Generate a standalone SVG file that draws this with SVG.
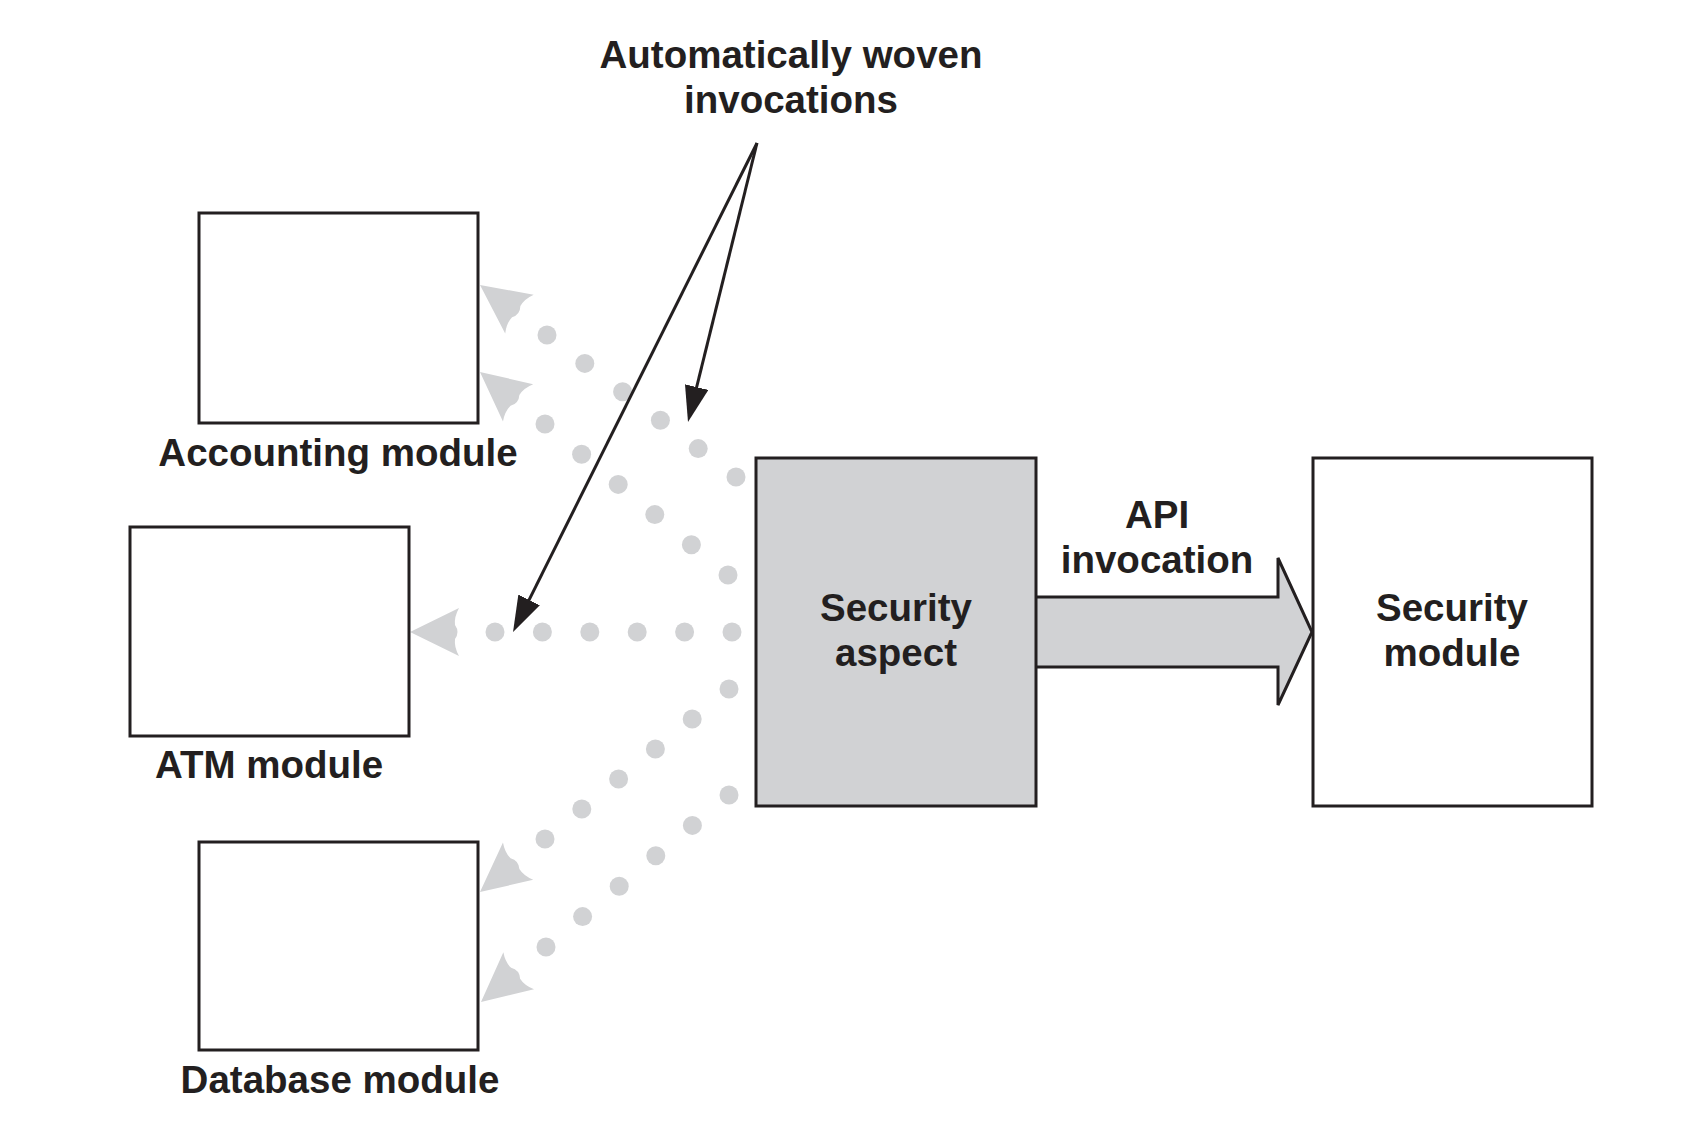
<svg xmlns="http://www.w3.org/2000/svg" width="1688" height="1130" viewBox="0 0 1688 1130">
<style>
.box{fill:#ffffff;stroke:#231f20;stroke-width:3}
.aspect{fill:#d1d2d4;stroke:#231f20;stroke-width:3}
.lbl{font-family:"Liberation Sans",Arial,sans-serif;font-weight:bold;font-size:38.5px;fill:#231f20;text-anchor:middle}
.dot{fill:#d1d2d4}
.ghead{fill:#d1d2d4}
.pointer{fill:none;stroke:#231f20;stroke-width:3}
.fat{fill:#d1d2d4;stroke:#231f20;stroke-width:3;stroke-linejoin:miter}
</style>
<defs>
<path id="grayhead" d="M0,0 L49,-24 Q44,-15 45,-7 Q50,0 45,7 Q44,15 49,24 Z"/>
<marker id="blackhead" markerUnits="userSpaceOnUse" markerWidth="36" markerHeight="24" viewBox="0 0 36 24" refX="26" refY="12" orient="auto">
<path d="M0,0 L36,12 L0,24 Z" fill="#231f20"/>
</marker>
</defs>
<rect width="1688" height="1130" fill="#ffffff"/>

<g id="connectors">
<g id="woven-accounting-1">
<circle class="dot" cx="547" cy="335" r="9.5"/><circle class="dot" cx="584.8" cy="363.4" r="9.5"/><circle class="dot" cx="622.6" cy="391.8" r="9.5"/><circle class="dot" cx="660.4" cy="420.2" r="9.5"/><circle class="dot" cx="698.2" cy="448.6" r="9.5"/><circle class="dot" cx="736" cy="477" r="9.5"/>
<use href="#grayhead" class="ghead" transform="translate(480,285) rotate(36.4)"/>
</g>
<g id="woven-accounting-2">
<circle class="dot" cx="545" cy="424" r="9.5"/><circle class="dot" cx="581.6" cy="454.2" r="9.5"/><circle class="dot" cx="618.2" cy="484.4" r="9.5"/><circle class="dot" cx="654.8" cy="514.6" r="9.5"/><circle class="dot" cx="691.4" cy="544.8" r="9.5"/><circle class="dot" cx="728" cy="575" r="9.5"/>
<use href="#grayhead" class="ghead" transform="translate(480,372) rotate(39)"/>
</g>
<g id="woven-atm">
<circle class="dot" cx="495" cy="632" r="9.5"/><circle class="dot" cx="542.4" cy="632" r="9.5"/><circle class="dot" cx="589.8" cy="632" r="9.5"/><circle class="dot" cx="637.2" cy="632" r="9.5"/><circle class="dot" cx="684.6" cy="632" r="9.5"/><circle class="dot" cx="732" cy="632" r="9.5"/>
<use href="#grayhead" class="ghead" transform="translate(410,632)"/>
</g>
<g id="woven-database-1">
<circle class="dot" cx="545" cy="839" r="9.5"/><circle class="dot" cx="581.8" cy="809" r="9.5"/><circle class="dot" cx="618.6" cy="779" r="9.5"/><circle class="dot" cx="655.4" cy="749" r="9.5"/><circle class="dot" cx="692.2" cy="719" r="9.5"/><circle class="dot" cx="729" cy="689" r="9.5"/>
<use href="#grayhead" class="ghead" transform="translate(480,892) rotate(-39)"/>
</g>
<g id="woven-database-2">
<circle class="dot" cx="546" cy="947" r="9.5"/><circle class="dot" cx="582.6" cy="916.6" r="9.5"/><circle class="dot" cx="619.2" cy="886.2" r="9.5"/><circle class="dot" cx="655.8" cy="855.8" r="9.5"/><circle class="dot" cx="692.4" cy="825.4" r="9.5"/><circle class="dot" cx="729" cy="795" r="9.5"/>
<use href="#grayhead" class="ghead" transform="translate(481,1002) rotate(-39.7)"/>
</g>
<path id="pointer-atm" class="pointer" d="M757,143 L517.5,623.1" marker-end="url(#blackhead)"/>
<path id="pointer-accounting" class="pointer" d="M757,143 L690.4,412.3" marker-end="url(#blackhead)"/>
<path id="api-invocation" class="fat" d="M1036,597 H1278 V558 L1312,632 L1278,705 V667 H1036"/>
</g>

<g id="label-woven">
<text class="lbl" x="791" y="68">Automatically woven</text>
<text class="lbl" x="791" y="113">invocations</text>
</g>
<g id="label-api">
<text class="lbl" x="1157" y="528">API</text>
<text class="lbl" x="1157" y="573">invocation</text>
</g>

<g id="accounting-module">
<rect class="box" x="199" y="213" width="279" height="210"/>
<text class="lbl" x="338" y="466">Accounting module</text>
</g>
<g id="atm-module">
<rect class="box" x="130" y="527" width="279" height="209"/>
<text class="lbl" x="269" y="778">ATM module</text>
</g>
<g id="database-module">
<rect class="box" x="199" y="842" width="279" height="208"/>
<text class="lbl" x="340" y="1093">Database module</text>
</g>
<g id="security-aspect">
<rect class="aspect" x="756" y="458" width="280" height="348"/>
<text class="lbl" x="896" y="621">Security</text>
<text class="lbl" x="896" y="666">aspect</text>
</g>
<g id="security-module">
<rect class="box" x="1313" y="458" width="279" height="348"/>
<text class="lbl" x="1452" y="621">Security</text>
<text class="lbl" x="1452" y="666">module</text>
</g>
</svg>
